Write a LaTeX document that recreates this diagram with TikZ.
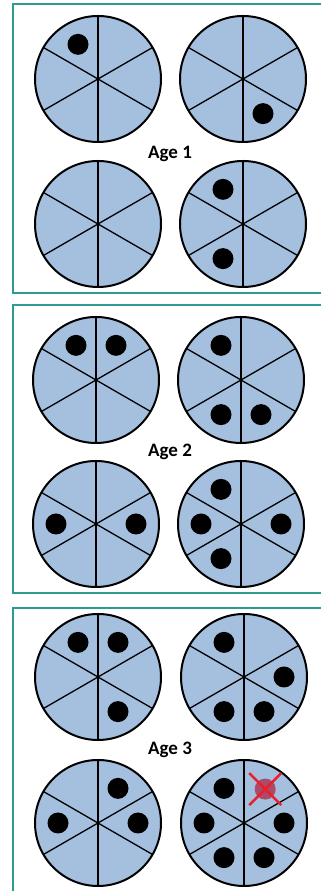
\documentclass[tikz,border=0pt]{standalone}
\usepackage{fontspec}
\setmainfont{Carlito}
\definecolor{agesteal}{RGB}{45,155,145}
\definecolor{agesblue}{RGB}{165,191,222}
\definecolor{agesred}{RGB}{235,30,45}
\definecolor{agesplum}{RGB}{170,75,105}
\usetikzlibrary{calc}

\tikzset{
  panelframe/.style={draw=agesteal, line width=2.6pt},
  wheelface/.style={fill=agesblue, draw=black, line width=2pt},
  spoke/.style={draw=black, line width=1.3pt},
  pebble/.style={fill=black},
  agelabel/.style={font=\fontsize{19}{22}\selectfont\bfseries, text=black, inner sep=0pt}
}

% one wheel, six slices
\newcommand{\wheel}[1]{%
  \begin{scope}[shift={(#1)}]
    \fill[agesblue] (0,0) circle (63pt);
    \foreach \a in {30,90,150}
      \draw[spoke] (\a:63pt) -- (\a+180:63pt);
    \draw[wheelface, fill=none] (0,0) circle (63pt);
  \end{scope}}
% dots in the slices of a wheel
\newcommand{\pebbles}[2]{%
  \foreach \a in {#2}
    \fill[pebble] ($(#1)+(\a:40pt)$) circle (10.5pt);}

\begin{document}
\begin{tikzpicture}[x=1pt, y=1pt]
  \useasboundingbox (0,0) rectangle (321,891);
  \clip (0,0) rectangle (321,891);

  % Frames
  \draw[panelframe] (13,598) rectangle (340,887);
  \draw[panelframe] (13,298) rectangle (340,586);
  \draw[panelframe] (13,-20) rectangle (340,283);

  % Age 1
  \coordinate (w1tl) at (98,812);
  \coordinate (w1tr) at (243,812);
  \coordinate (w1bl) at (98,667);
  \coordinate (w1br) at (243,667);
  \wheel{w1tl} \wheel{w1tr} \wheel{w1bl} \wheel{w1br}
  \pebbles{w1tl}{120}
  \pebbles{w1tr}{300}
  \pebbles{w1br}{120,240}
  \node[agelabel] (age1) at (170,737) {Age 1};

  % Age 2
  \coordinate (w2tl) at (96,511);
  \coordinate (w2tr) at (241,511);
  \coordinate (w2bl) at (96,367);
  \coordinate (w2br) at (241,367);
  \wheel{w2tl} \wheel{w2tr} \wheel{w2bl} \wheel{w2br}
  \pebbles{w2tl}{120,60}
  \pebbles{w2tr}{120,240,300}
  \pebbles{w2bl}{180,0}
  \pebbles{w2br}{120,180,240,0}
  \node[agelabel] (age2) at (170,439) {Age 2};

  % Age 3
  \coordinate (w3tl) at (98,214);
  \coordinate (w3tr) at (244,214);
  \coordinate (w3bl) at (98,68);
  \coordinate (w3br) at (244,68);
  \wheel{w3tl} \wheel{w3tr} \wheel{w3bl} \wheel{w3br}
  \pebbles{w3tl}{120,60,300}
  \pebbles{w3tr}{120,0,240,300}
  \pebbles{w3bl}{60,180,0}
  \pebbles{w3br}{120,180,240,300,0}
  \node[agelabel] (age3) at (170,141) {Age 3};

  % Removed one
  \coordinate (gone) at ($(w3br)+(58:40pt)$);
  \fill[agesplum] (gone) circle (10.5pt);
  \draw[agesred, line width=2.5pt] ($(gone)+(-16,16)$) -- ($(gone)+(16,-16)$);
  \draw[agesred, line width=2.5pt] ($(gone)+(-16,-16)$) -- ($(gone)+(16,16)$);
\end{tikzpicture}
\end{document}
